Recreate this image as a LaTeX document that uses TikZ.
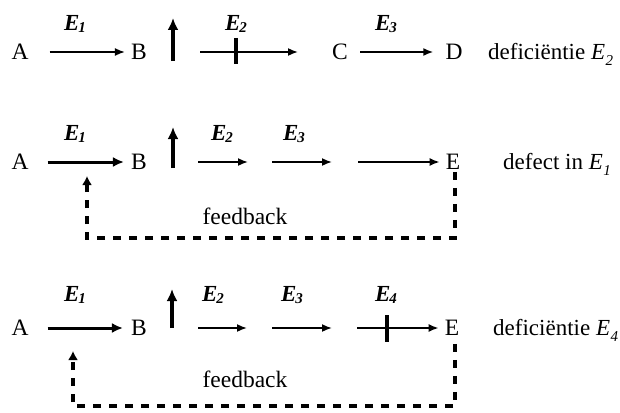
\documentclass[tikz,border=0pt]{standalone}
\usepackage{fontspec}
\setmainfont{Liberation Serif}
\usetikzlibrary{arrows.meta}
% enzyme label above a reaction arrow: bold italic E with a small index
\newcommand{\enz}[1]{\textbf{\textit{E}}\kern-0.05em\raisebox{-0.1em}{\fontsize{15}{15}\selectfont\textbf{\textit{#1}}}}
% enzyme name inside running text
\newcommand{\enzt}[1]{\textit{E}\kern0.02em\raisebox{-0.25em}{\fontsize{15}{15}\selectfont\textit{#1}}}
\begin{document}
\begin{tikzpicture}[x=1pt,y=-1pt,
  txt/.style={font=\fontsize{23.5}{27}\selectfont, inner sep=0pt},
  side/.style={font=\fontsize{23}{27}\selectfont, inner sep=0pt, anchor=base west},
  elbl/.style={font=\fontsize{23}{26}\selectfont, inner sep=0pt},
  flow/.style={line width=1.7pt, -{Latex[length=10pt,width=8pt]}},
  boldflow/.style={line width=3pt, -{Latex[length=11pt,width=10pt]}},
  rise/.style={line width=3.8pt, -{Latex[length=12pt,width=11pt]}},
  blocked/.style={line width=3.8pt},
  fb/.style={line width=3.6pt, dash pattern=on 8pt off 8pt,
             -{Latex[length=9pt,width=10pt]}}]
\useasboundingbox (0,0) rectangle (620,412);

% ---------- first pathway: block at E2 ----------
\node[txt] (A1) at (20,52) {A};
\node[txt] (B1) at (139,52) {B};
\node[txt] (C1) at (340,52) {C};
\node[txt] (D1) at (454,52) {D};
\node[side] (s1) at (488,59.5) {deficiëntie \enzt{2}};
\draw[flow, shorten <=21pt, shorten >=6pt] (A1) -- (B1);
\coordinate (u1b) at (173,61); \coordinate (u1t) at (173,18);
\draw[rise] (u1b) -- (u1t);
\coordinate (p1s) at (200,52); \coordinate (p1e) at (298,52);
\draw[flow] (p1s) -- (p1e);
\coordinate (k1t) at (236,38); \coordinate (k1b) at (236,64);
\draw[blocked] (k1t) -- (k1b);
\draw[flow, shorten <=12pt, shorten >=12pt] (C1) -- (D1);
\node[elbl] (l11) at (75,24) {\enz{1}};
\node[elbl] (l12) at (236,24) {\enz{2}};
\node[elbl] (l13) at (386,24) {\enz{3}};

% ---------- second pathway: defect in E1 with feedback ----------
\node[txt] (A2) at (20,162) {A};
\node[txt] (B2) at (139,162) {B};
\node[txt] (E2) at (453,162) {E};
\node[side] (s2) at (503,169.5) {defect in \enzt{1}};
\draw[boldflow, shorten <=19pt, shorten >=7pt] (A2) -- (B2);
\coordinate (u2b) at (173,168); \coordinate (u2t) at (173,127);
\draw[rise] (u2b) -- (u2t);
\coordinate (p2a) at (198,162); \coordinate (p2b) at (248,162);
\draw[flow] (p2a) -- (p2b);
\coordinate (p2c) at (272,162); \coordinate (p2d) at (332,162);
\draw[flow] (p2c) -- (p2d);
\coordinate (p2e) at (358,162);
\draw[flow, shorten >=6pt] (p2e) -- (E2);
\node[elbl] (l21) at (75,134) {\enz{1}};
\node[elbl] (l22) at (222,134) {\enz{2}};
\node[elbl] (l23) at (294,134) {\enz{3}};
\coordinate (f2c) at (87,238); \coordinate (f2t) at (87,176);
\draw[fb, shorten <=2pt] ([xshift=2pt]E2.south) |- (f2c) -- (f2t);
\node[txt] (fb2) at (245,216) {feedback};

% ---------- third pathway: block at E4 with feedback ----------
\node[txt] (A3) at (20,328) {A};
\node[txt] (B3) at (139,328) {B};
\node[txt] (E3) at (452,328) {E};
\node[side] (s3) at (493,335.5) {deficiëntie \enzt{4}};
\draw[boldflow, shorten <=19pt, shorten >=8pt] (A3) -- (B3);
\coordinate (u3b) at (172,328); \coordinate (u3t) at (172,289);
\draw[rise] (u3b) -- (u3t);
\coordinate (p3a) at (198,328); \coordinate (p3b) at (247,328);
\draw[flow] (p3a) -- (p3b);
\coordinate (p3c) at (272,328); \coordinate (p3d) at (332,328);
\draw[flow] (p3c) -- (p3d);
\coordinate (p3e) at (357,328);
\draw[flow, shorten >=6pt] (p3e) -- (E3);
\coordinate (k3t) at (387,315); \coordinate (k3b) at (387,342);
\draw[blocked] (k3t) -- (k3b);
\node[elbl] (l31) at (75,295) {\enz{1}};
\node[elbl] (l32) at (213,295) {\enz{2}};
\node[elbl] (l33) at (292,295) {\enz{3}};
\node[elbl] (l34) at (386,295) {\enz{4}};
\coordinate (f3c) at (73,406); \coordinate (f3t) at (73,351);
\draw[fb, shorten <=8pt] ([xshift=3pt]E3.south) |- (f3c) -- (f3t);
\node[txt] (fb3) at (245,379) {feedback};
\end{tikzpicture}
\end{document}
